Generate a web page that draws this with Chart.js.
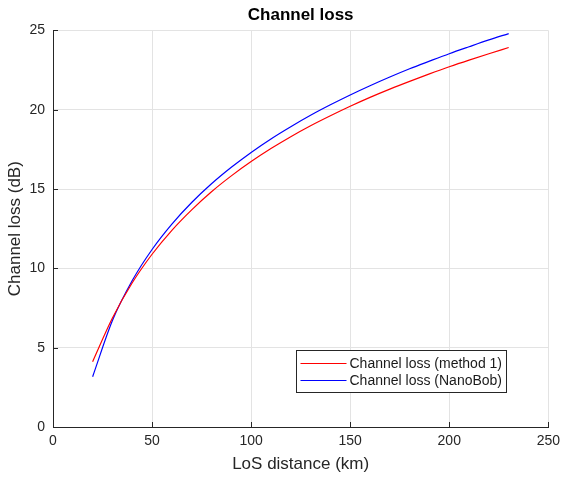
<!DOCTYPE html>
<html>
<head>
<meta charset="utf-8">
<script src="https://cdn.jsdelivr.net/npm/chart.js@4/dist/chart.umd.min.js"></script>
<style>
  html, body { margin: 0; padding: 0; background: #ffffff; }
  #wrap { width: 566px; height: 477px; position: relative; }
</style>
</head>
<body>
<div id="wrap"><canvas id="c" width="566" height="477"></canvas></div>
<script>
// ---- Data ----
const distances = [20, 30, 40, 50, 60, 70, 80, 90, 100, 110, 120, 130, 140, 150, 160, 170, 180, 190, 200, 210, 220, 230];
const lossMethod1 = [4.12, 6.87, 9.09, 10.89, 12.40, 13.69, 14.83, 15.83, 16.73, 17.55, 18.30, 18.99, 19.62, 20.22, 20.78, 21.30, 21.79, 22.26, 22.71, 23.13, 23.53, 23.92];
const lossNanoBob = [3.17, 6.71, 9.23, 11.19, 12.79, 14.15, 15.33, 16.37, 17.31, 18.16, 18.93, 19.65, 20.31, 20.93, 21.51, 22.06, 22.58, 23.06, 23.53, 23.97, 24.40, 24.80];
const seriesLabels = ['Channel loss (method 1)', 'Channel loss (NanoBob)'];
const seriesColors = ['#ff0000', '#0000ff'];
const xTicks = [0, 50, 100, 150, 200, 250];
const yTicks = [0, 5, 10, 15, 20, 25];
const titleText = 'Channel loss';
const xTitle = 'LoS distance (km)';
const yTitle = 'Channel loss (dB)';

const FONT = '"Liberation Sans", Arial, Helvetica, sans-serif';
const AXIS = '#262626';
const GRID = '#e3e3e3';

function toPoints(xs, ys) { return xs.map((x, i) => ({ x: x, y: ys[i] })); }

// Inward tick marks (MATLAB style)
const inwardTicks = {
  id: 'inwardTicks',
  afterDatasetsDraw(chart) {
    const ctx = chart.ctx;
    const xs = chart.scales.x, ys = chart.scales.y;
    const a = chart.chartArea;
    ctx.save();
    ctx.strokeStyle = AXIS;
    ctx.lineWidth = 1;
    ctx.beginPath();
    xTicks.forEach(v => {
      const px = Math.round(xs.getPixelForValue(v)) + 0.5;
      ctx.moveTo(px, a.bottom);
      ctx.lineTo(px, a.bottom - 5);
    });
    yTicks.forEach(v => {
      const py = Math.round(ys.getPixelForValue(v)) + 0.5;
      ctx.moveTo(a.left, py);
      ctx.lineTo(a.left + 5, py);
    });
    ctx.stroke();
    ctx.restore();
  }
};

// Legend drawn inside the axes, lower right (like MATLAB)
const insideLegend = {
  id: 'insideLegend',
  afterDraw(chart) {
    const ctx = chart.ctx;
    const a = chart.chartArea;
    const w = 210, h = 42;
    const x0 = Math.round(a.right - 252) + 0.5;
    const y0 = Math.round(a.bottom - 77) + 0.5;
    ctx.save();
    ctx.fillStyle = '#ffffff';
    ctx.fillRect(x0, y0, w, h);
    ctx.strokeStyle = AXIS;
    ctx.lineWidth = 1;
    ctx.strokeRect(x0, y0, w, h);
    ctx.font = '14px ' + FONT;
    ctx.textBaseline = 'middle';
    ctx.textAlign = 'left';
    chart.data.datasets.forEach((ds, i) => {
      const yy = Math.round(y0 + 12 + i * 17.5) + 0.5;
      ctx.strokeStyle = ds.borderColor;
      ctx.lineWidth = 1.2;
      ctx.beginPath();
      ctx.moveTo(x0 + 4, yy);
      ctx.lineTo(x0 + 50, yy);
      ctx.stroke();
      ctx.fillStyle = '#1a1a1a';
      ctx.fillText(ds.label, x0 + 53, yy + 0.5);
    });
    ctx.restore();
  }
};

new Chart(document.getElementById('c'), {
  type: 'line',
  data: {
    datasets: [
      {
        label: seriesLabels[0],
        data: toPoints(distances, lossMethod1),
        borderColor: seriesColors[0],
        backgroundColor: seriesColors[0],
        borderWidth: 1.2,
        pointRadius: 0,
        cubicInterpolationMode: 'monotone',
        fill: false
      },
      {
        label: seriesLabels[1],
        data: toPoints(distances, lossNanoBob),
        borderColor: seriesColors[1],
        backgroundColor: seriesColors[1],
        borderWidth: 1.2,
        pointRadius: 0,
        cubicInterpolationMode: 'monotone',
        fill: false
      }
    ]
  },
  options: {
    responsive: false,
    animation: false,
    devicePixelRatio: 1,
    layout: { padding: { left: 0, right: 13, top: 0, bottom: 2 } },
    plugins: {
      legend: { display: false },
      tooltip: { enabled: false },
      title: {
        display: true,
        fullSize: false,
        text: titleText,
        color: '#000000',
        font: { family: FONT, size: 17, weight: 'bold' },
        padding: { top: 5, bottom: 5 }
      }
    },
    scales: {
      x: {
        type: 'linear',
        min: 0,
        max: 250,
        afterBuildTicks(scale) { scale.ticks = xTicks.map(v => ({ value: v })); },
        afterFit(scale) { scale.height = 48; },
        ticks: {
          color: AXIS,
          font: { family: FONT, size: 14 },
          padding: 6,
          maxRotation: 0
        },
        grid: { color: GRID, drawTicks: false, lineWidth: 1 },
        border: { color: AXIS, width: 1 },
        title: {
          display: true,
          text: xTitle,
          color: AXIS,
          font: { family: FONT, size: 17 },
          padding: { top: 0, bottom: 0 }
        }
      },
      y: {
        type: 'linear',
        min: 0,
        max: 25,
        afterBuildTicks(scale) { scale.ticks = yTicks.map(v => ({ value: v })); },
        afterFit(scale) { scale.width = 53; },
        ticks: {
          color: AXIS,
          font: { family: FONT, size: 14 },
          padding: 8
        },
        grid: { color: GRID, drawTicks: false, lineWidth: 1 },
        border: { color: AXIS, width: 1 },
        title: {
          display: true,
          text: yTitle,
          color: AXIS,
          font: { family: FONT, size: 17 },
          padding: { top: 5, bottom: 0 }
        }
      }
    }
  },
  plugins: [inwardTicks, insideLegend]
});
</script>
</body>
</html>
